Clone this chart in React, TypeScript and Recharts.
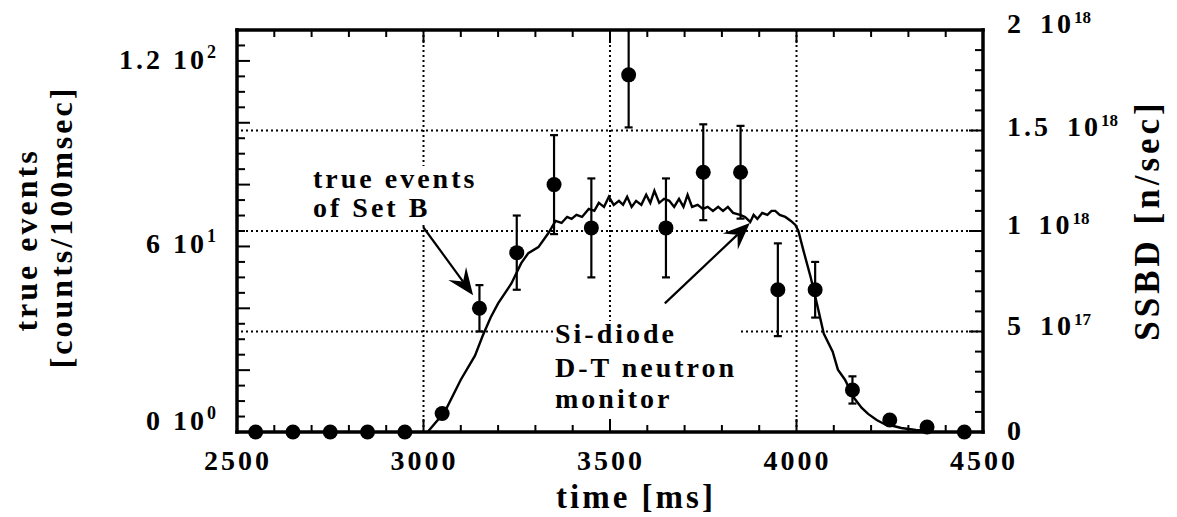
import React from "react";
import { ComposedChart, Line, Scatter, ErrorBar, XAxis, YAxis, ReferenceLine } from "recharts";

// true events of Set B, 100 ms bins (left axis)
const binTime = [2550, 2650, 2750, 2850, 2950, 3050, 3150, 3250, 3350, 3450, 3550, 3650, 3750, 3850, 3950, 4050, 4150, 4250, 4350, 4450];
const counts = [0, 0, 0, 0, 0, 6, 40, 58, 80, 66, 115.5, 66, 84, 84, 46, 46, 13.6, 3.9, 1.6, 0];
const countErr: (number | number[])[] = [0, 0, 0, 0, 0, 0, 7.5, 12, 16, 16, [17, 14.5], 16, 15.5, 15, 15, 9, 4.4, 0, 0, 0];

// Si-diode neutron monitor (right axis, units of 1e18 n/sec)
const ssbdTime = [3011, 3057, 3100, 3138, 3159, 3180, 3200, 3236, 3262, 3281, 3308, 3335, 3354, 3370, 3385, 3397, 3410, 3425, 3443, 3458, 3470, 3484, 3497, 3510, 3524, 3535, 3546, 3558, 3570, 3584, 3597, 3608, 3619, 3632, 3645, 3659, 3672, 3685, 3697, 3708, 3720, 3735, 3749, 3762, 3776, 3790, 3803, 3816, 3830, 3849, 3862, 3876, 3885, 3895, 3908, 3922, 3933, 3943, 3955, 3970, 3985, 3997, 4005, 4019, 4038, 4057, 4073, 4097, 4111, 4130, 4154, 4175, 4192, 4215, 4235, 4260, 4281, 4320, 4350];
const ssbdValue = [0, 0.1, 0.26, 0.38, 0.48, 0.57, 0.64, 0.74, 0.84, 0.89, 0.92, 0.99, 1.05, 1.04, 1.07, 1.06, 1.08, 1.07, 1.11, 1.1, 1.14, 1.12, 1.17, 1.13, 1.15, 1.13, 1.17, 1.12, 1.15, 1.13, 1.18, 1.14, 1.2, 1.14, 1.16, 1.15, 1.12, 1.16, 1.12, 1.18, 1.12, 1.13, 1.11, 1.12, 1.1, 1.12, 1.1, 1.12, 1.09, 1.08, 1.07, 1.045, 1.08, 1.06, 1.09, 1.08, 1.1, 1.1, 1.08, 1.07, 1.05, 1.03, 1.0, 0.9, 0.77, 0.62, 0.49, 0.4, 0.31, 0.26, 0.17, 0.12, 0.09, 0.06, 0.04, 0.03, 0.02, 0.01, 0.005];

const timeTicks = Array.from({ length: 21 }, (_, i) => 2500 + i * 100);
const countTicks = Array.from({ length: 27 }, (_, i) => i * 5);
const ssbdTicks = Array.from({ length: 21 }, (_, i) => i / 10);
const countLabels = [
  { v: 0, m: "0", e: "0", dy: -2 },
  { v: 60, m: "6", e: "1", dy: 7 },
  { v: 120, m: "1.2", e: "2", dy: 8 },
];
const ssbdLabels = [
  { v: 0, m: "0", e: "", dy: 8 },
  { v: 0.5, m: "5", e: "17", dy: 3 },
  { v: 1, m: "1", e: "18", dy: 3 },
  { v: 1.5, m: "1.5", e: "18", dy: 5 },
  { v: 2, m: "2", e: "18", dy: 3 },
];

const scatterData = binTime.map((t, i) => ({ t, n: counts[i], err: countErr[i] }));
const lineData = ssbdTime.map((t, i) => ({ t, v: ssbdValue[i] }));

const W = 1161;
const H = 509;
const MARGIN = { top: 12, right: 106, bottom: 45, left: 149 };
const TOP_AXIS_H = 10;
const BOTTOM_AXIS_H = 40;
const PLOT_H = H - MARGIN.top - MARGIN.bottom - TOP_AXIS_H - BOTTOM_AXIS_H;

const FONT = "'Liberation Serif', 'Times New Roman', serif";
const txt = { fontFamily: FONT, fontWeight: 700, fontSize: 28, letterSpacing: 3, fill: "#000" } as const;

// bottom ticks point inward; the matching top-frame ticks are drawn here too
function BottomTick(p: any) {
  const { x, y, payload } = p;
  const major = payload.value % 500 === 0;
  const len = major ? 13 : 7;
  const top = y - PLOT_H;
  return (
    <g>
      <line x1={x} x2={x} y1={y} y2={y - len} stroke="#000" strokeWidth={2} />
      <line x1={x} x2={x} y1={top} y2={top + len} stroke="#000" strokeWidth={2} />
      {major && (
        <text x={x + 1} y={y + 38} textAnchor="middle" style={txt}>
          {payload.value}
        </text>
      )}
    </g>
  );
}

function LeftTick(p: any) {
  const { x, y, payload } = p;
  const major = payload.value % 20 === 0;
  const lab = countLabels.find((l) => l.v === payload.value);
  return (
    <g>
      <line x1={x} x2={x + (major ? 13 : 8)} y1={y} y2={y} stroke="#000" strokeWidth={2} />
      {lab && (
        <text x={x - 20} y={y + lab.dy} textAnchor="end" style={txt}>
          {lab.m} 10
          <tspan dy={-11} fontSize={18} letterSpacing={1}>{lab.e}</tspan>
        </text>
      )}
    </g>
  );
}

function RightTick(p: any) {
  const { x, y, payload } = p;
  const v = Math.round(payload.value * 10) / 10;
  const major = Math.round(v * 10) % 5 === 0;
  const lab = ssbdLabels.find((l) => l.v === v);
  return (
    <g>
      <line x1={x} x2={x - (major ? 14 : 8)} y1={y} y2={y} stroke="#000" strokeWidth={2} />
      {lab && (
        <text x={x + 24} y={y + lab.dy} textAnchor="start" style={txt}>
          {lab.m}
          {lab.e && <tspan dx={16}>10</tspan>}
          {lab.e && <tspan dy={-10} fontSize={17} letterSpacing={0}>{lab.e}</tspan>}
        </text>
      )}
    </g>
  );
}

function Arrow(p: any) {
  const { x1, y1, x2, y2 } = p;
  const dx = x2 - x1;
  const dy = y2 - y1;
  const L = Math.hypot(dx, dy) || 1;
  const ux = dx / L;
  const uy = dy / L;
  const nx = -uy;
  const ny = ux;
  const len = 27;
  const half = 11;
  const notch = 17;
  const bx = x2 - ux * len;
  const by = y2 - uy * len;
  const ix = x2 - ux * notch;
  const iy = y2 - uy * notch;
  return (
    <g>
      <line x1={x1} y1={y1} x2={ix} y2={iy} stroke="#000" strokeWidth={2.2} />
      <polygon
        points={`${x2},${y2} ${bx + nx * half},${by + ny * half} ${ix},${iy} ${bx - nx * half},${by - ny * half}`}
        fill="#000"
      />
    </g>
  );
}

const axisLine = { stroke: "#000", strokeWidth: 3.5, strokeLinecap: "square" as const };
const grid = { stroke: "#000", strokeWidth: 2, strokeDasharray: "2 3" };

export default function App() {
  return (
    <div style={{ position: "relative", width: W, height: H }}>
      <ComposedChart width={W} height={H} margin={MARGIN}>
        <XAxis
          xAxisId="b"
          dataKey="t"
          type="number"
          domain={[2500, 4500]}
          ticks={timeTicks}
          interval={0}
          height={BOTTOM_AXIS_H}
          tickSize={0}
          tickMargin={0}
          tickLine={false}
          axisLine={axisLine}
          tick={<BottomTick />}
        />
        <XAxis
          xAxisId="t"
          orientation="top"
          dataKey="t"
          type="number"
          domain={[2500, 4500]}
          height={TOP_AXIS_H}
          tick={false}
          tickLine={false}
          axisLine={axisLine}
        />
        <YAxis
          yAxisId="l"
          dataKey="n"
          type="number"
          domain={[0, 130]}
          ticks={countTicks}
          interval={0}
          width={80}
          tickSize={0}
          tickMargin={0}
          tickLine={false}
          axisLine={axisLine}
          tick={<LeftTick />}
        />
        <YAxis
          yAxisId="r"
          orientation="right"
          type="number"
          domain={[0, 2]}
          ticks={ssbdTicks}
          interval={0}
          width={80}
          tickSize={0}
          tickMargin={0}
          tickLine={false}
          axisLine={axisLine}
          tick={<RightTick />}
        />

        {[3000, 3500, 4000].map((t) => (
          <ReferenceLine key={"x" + t} x={t} xAxisId="b" yAxisId="r" {...grid} />
        ))}
        {[0.5, 1, 1.5].map((v) => (
          <ReferenceLine key={"y" + v} y={v} xAxisId="b" yAxisId="r" {...grid} />
        ))}

        <Line
          data={lineData}
          dataKey="v"
          xAxisId="b"
          yAxisId="r"
          type="linear"
          stroke="#000"
          strokeWidth={2.4}
          dot={false}
          isAnimationActive={false}
        />
        <Scatter
          data={scatterData}
          dataKey="n"
          xAxisId="b"
          yAxisId="l"
          isAnimationActive={false}
          shape={(p: any) => <circle cx={p.cx} cy={p.cy} r={7.5} fill="#000" />}
        >
          <ErrorBar dataKey="err" direction="y" width={4} stroke="#000" strokeWidth={2.2} isAnimationActive={false} />
        </Scatter>

        <ReferenceLine
          xAxisId="b"
          yAxisId="r"
          segment={[{ x: 2999, y: 1.02 }, { x: 3133, y: 0.68 }]}
          shape={(p: any) => <Arrow {...p} />}
        />
        <ReferenceLine
          xAxisId="b"
          yAxisId="r"
          segment={[{ x: 3647, y: 0.64 }, { x: 3875, y: 1.04 }]}
          shape={(p: any) => <Arrow {...p} />}
        />
      </ComposedChart>

      <svg width={W} height={H} style={{ position: "absolute", left: 0, top: 0, pointerEvents: "none" }}>
        <rect x={303} y={158} width={168} height={58} fill="#fff" />
        <text x={305} y={180} style={txt}>true events</text>
        <text x={305} y={209} style={txt}>of Set B</text>

        <rect x={545} y={313} width={188} height={96} fill="#fff" />
        <text x={547} y={335} style={txt}>Si-diode</text>
        <text x={547} y={369} style={txt}>D-T neutron</text>
        <text x={547} y={400} style={txt}>monitor</text>

        <text
          transform="translate(29,232) rotate(-90)"
          textAnchor="middle"
          style={{ ...txt, fontSize: 32 }}
        >
          true events
        </text>
        <text
          transform="translate(64,219) rotate(-90)"
          textAnchor="middle"
          style={{ ...txt, fontSize: 32 }}
        >
          [counts/100msec]
        </text>
        <text
          transform="translate(1151,212) rotate(-90)"
          textAnchor="middle"
          style={{ ...txt, fontSize: 35, letterSpacing: 4 }}
        >
          SSBD [n/sec]
        </text>
        <text x={628} y={500} textAnchor="middle" style={{ ...txt, fontSize: 33 }}>
          time [ms]
        </text>
      </svg>
    </div>
  );
}
